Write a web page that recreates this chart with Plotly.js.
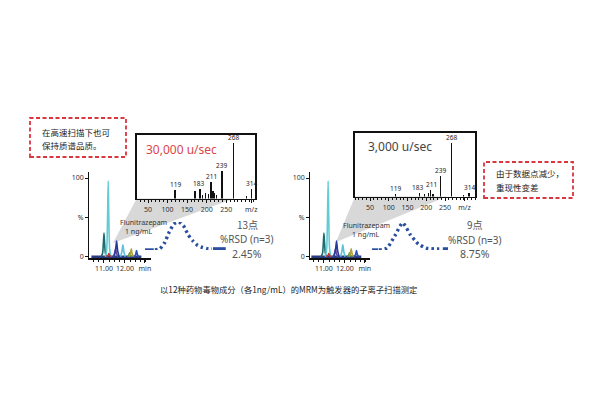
<!DOCTYPE html>
<html>
<head>
<meta charset="utf-8">
<script src="https://cdn.plot.ly/plotly-3.0.1.min.js"></script>
<style>
  html, body { margin: 0; padding: 0; background: #fff; }
  #chart { width: 600px; height: 400px; }
</style>
</head>
<body>
<div id="chart"></div>
<script>
(function () {
  'use strict';

  /* ---------- TIC chromatogram (same trace in both panels) ---------- */
  const chromBaseX = [10.4, 12.78];
  const chromBaseY = [0, 0];
  const chromColors = ['#1f6b6b', '#62ccd5', '#c8352e', '#6b4c9a', '#243f9a',
                       '#5ec3d8', '#5a9a40', '#b0a040', '#2c55b5'];
  const chromX = [
    [10.86, 10.93, 10.97, 11.00, 11.03, 11.07, 11.14],
    [11.07, 11.13, 11.17, 11.20, 11.23, 11.27, 11.33],
    [11.12, 11.20, 11.23, 11.26, 11.34],
    [11.44, 11.50, 11.55, 11.60, 11.66],
    [11.48, 11.55, 11.60, 11.65, 11.72],
    [11.79, 11.85, 11.90, 11.95, 12.01],
    [12.12, 12.18, 12.22, 12.26, 12.32],
    [12.20, 12.26, 12.30, 12.34, 12.40],
    [12.45, 12.51, 12.55, 12.59, 12.65]
  ];
  const chromY = [
    [0, 4, 17, 30, 17, 4, 0],
    [0, 10, 50, 96, 50, 10, 0],
    [0, 2, 4, 2, 0],
    [0, 4, 10, 4, 0],
    [0, 8, 20, 8, 0],
    [0, 6, 15, 6, 0],
    [0, 2, 5, 2, 0],
    [0, 4, 10, 4, 0],
    [0, 3, 8, 3, 0]
  ];
  const CHROM_TICKS = [11, 12, 12.95];
  const CHROM_TICKTEXT = ['11.00', '12.00', 'min'];

  /* ---------- product-ion spectra ---------- */
  const fastMz  = [119, 170, 183, 190, 197, 205, 211, 216, 221, 226, 239, 268, 302, 314];
  const fastInt = [16, 14, 17, 7, 10, 8, 29, 13, 10, 6, 49, 100, 4, 17];
  const slowMz  = [119, 183, 196, 205, 211, 218, 239, 268, 300, 314];
  const slowInt = [4, 7, 4, 6, 13, 5, 38, 100, 3, 6];
  const labeledMz = [119, 183, 211, 239, 268, 314];
  const MZ_TICKS = [50, 100, 150, 200, 250];

  /* ---------- Flunitrazepam peak: scan points ---------- */
  const fastScans = [0, 4, 25, 64, 93, 100, 86, 54, 32, 16, 9, 5, 4];
  const slowScans = [0, 7, 52, 100, 56, 22, 7, 4, 4];

  const FONT = "'Noto Sans', 'Noto Sans CJK SC', sans-serif";
  const CJK = "'Noto Sans CJK SC', 'Noto Sans', sans-serif";
  const CURVE_BLUE = '#2a4fa0';

  const PX = v => v / 600;
  const PY = v => 1 - v / 400;

  /* ---------- axis builders ---------- */
  function chromAxes(x0, x1, range) {
    return {
      x: {
        domain: [PX(x0), PX(x1)], range: range,
        showline: true, linecolor: '#111', linewidth: 1.2,
        ticks: 'outside', ticklen: 3, tickcolor: '#111',
        tickmode: 'array', tickvals: CHROM_TICKS, ticktext: CHROM_TICKTEXT,
        tickfont: { size: 7, color: '#333', family: FONT },
        minor: { tickmode: 'linear', tick0: 10.5, dtick: 0.25, ticks: 'outside', ticklen: 2, tickcolor: '#111' },
        showgrid: false, zeroline: false
      },
      y: {
        domain: [PY(258.3), PY(171.7)], range: [-2, 108],
        showline: true, linecolor: '#111', linewidth: 1.2,
        ticks: 'outside', ticklen: 3, tickcolor: '#111',
        tickmode: 'array', tickvals: [0, 50, 100], ticktext: ['0', '%', '100'],
        tickfont: { size: 7, color: '#333', family: FONT },
        showgrid: false, zeroline: false
      }
    };
  }

  function specAxes(x0, x1, y0, y1, range, yTop, mzPos) {
    return {
      x: {
        domain: [PX(x0), PX(x1)], range: range,
        showline: true, mirror: true, linecolor: '#111', linewidth: 1.6,
        ticks: 'outside', ticklen: 3, tickcolor: '#111',
        tickmode: 'array', tickvals: MZ_TICKS.concat([mzPos]), ticktext: MZ_TICKS.map(String).concat(['m/z']),
        tickfont: { size: 7, color: '#333', family: FONT },
        minor: { tickmode: 'linear', tick0: 0, dtick: 10, ticks: 'outside', ticklen: 2, tickcolor: '#111' },
        showgrid: false, zeroline: false
      },
      y: {
        domain: [PY(y1), PY(y0)], range: [0, yTop],
        showline: true, mirror: true, linecolor: '#111', linewidth: 1.6,
        ticks: '', showticklabels: false, showgrid: false, zeroline: false
      }
    };
  }

  function curveAxes(x0, x1, y0, y1, range) {
    return {
      x: { domain: [PX(x0), PX(x1)], range: range, visible: false },
      y: { domain: [PY(y0), PY(y1)], range: [0, 100], visible: false }
    };
  }

  /* ---------- traces ---------- */
  const traces = [];

  function addChrom(xa, ya) {
    traces.push({
      x: chromBaseX, y: chromBaseY, xaxis: xa, yaxis: ya,
      type: 'scatter', mode: 'lines', line: { color: '#2a3a80', width: 2.5 }, cliponaxis: false
    });
    chromX.forEach(function (xs, i) {
      traces.push({
        x: xs, y: chromY[i], xaxis: xa, yaxis: ya,
        type: 'scatter', mode: 'lines',
        line: { color: chromColors[i], width: 1.6, shape: 'spline', smoothing: 0.7 },
        cliponaxis: false
      });
    });
  }

  function addSpec(xa, ya, mz, inten) {
    traces.push({
      x: mz, y: inten, xaxis: xa, yaxis: ya, type: 'bar',
      width: 3.2, marker: { color: '#111', line: { width: 0 } }
    });
  }

  function addCurve(xa, ya, scans, dashL, dashR) {
    traces.push({
      x: scans.map((_, i) => i), y: scans, xaxis: xa, yaxis: ya,
      type: 'scatter', mode: 'lines', cliponaxis: false,
      line: { color: CURVE_BLUE, width: 3.4, dash: '2.6px,3px', shape: 'spline', smoothing: 0.6 }
    });
    [dashL, dashR].forEach(function (d) {
      traces.push({
        x: d.x, y: d.y, xaxis: xa, yaxis: ya,
        type: 'scatter', mode: 'lines', cliponaxis: false,
        line: { color: CURVE_BLUE, width: 3.4 }
      });
    });
  }

  addChrom('x', 'y');
  addSpec('x2', 'y2', fastMz, fastInt);
  addCurve('x3', 'y3', fastScans,
    { x: [-2.1, -0.25], y: [0, 0] }, { x: [12.2, 14.9], y: [4, 4] });
  addChrom('x4', 'y4');
  addSpec('x5', 'y5', slowMz, slowInt);
  addCurve('x6', 'y6', slowScans,
    { x: [-0.9, -0.1], y: [0, 0] }, { x: [8.1, 8.8], y: [4, 4] });

  /* ---------- layout ---------- */
  const cL = chromAxes(89.3, 151, [10.3, 13.24]);
  const cR = chromAxes(310.3, 370.3, [10.35, 13.21]);
  const sL = specAxes(136.7, 255.5, 135, 198.5, [21, 325], 115, 314);
  const sR = specAxes(355, 475, 133, 196.5, [10, 330], 119, 302);
  const dL = curveAxes(145, 226, 250, 222, [-2.1, 14.95]);
  const dR = curveAxes(372, 448, 250, 223, [-0.89, 8.76]);

  function peakLabels(xa, ya, mz, inten) {
    return labeledMz.map(function (m) {
      const k = mz.indexOf(m);
      return {
        x: m, y: inten[k], xref: xa, yref: ya, text: String(m),
        showarrow: false, yanchor: 'bottom', yshift: -1,
        xshift: m === 183 ? -2 : (m === 211 ? 1 : 0),
        font: { size: 6.5, color: '#222', family: FONT }
      };
    });
  }

  function paperText(x, y, text, size, color, anchor, fam) {
    return {
      x: PX(x), y: PY(y), xref: 'paper', yref: 'paper', text: text,
      showarrow: false, xanchor: anchor || 'center', yanchor: 'middle',
      font: { size: size, color: color, family: fam || FONT }
    };
  }

  const annotations = [
    paperText(40, 132, '在高速扫描下也可', 8.5, '#222', 'left', CJK),
    paperText(40, 145, '保持质谱品质。', 8.5, '#222', 'left', CJK),
    paperText(494, 173, '由于数据点减少，', 8.5, '#222', 'left', CJK),
    paperText(494, 187, '重现性变差', 8.5, '#222', 'left', CJK),
    paperText(144, 149, '30,000 u/sec', 12, '#d8474a', 'left'),
    paperText(366, 147, '3,000 u/sec', 12, '#444', 'left'),
    paperText(143, 222, 'Flunitrazepam', 7, '#333'),
    paperText(139, 232, '1 ng/mL', 7, '#333'),
    paperText(366, 225, 'Flunitrazepam', 7, '#333'),
    paperText(366, 234, '1 ng/mL', 7, '#333'),
    paperText(247, 224, '13点', 10, '#555', 'center', CJK),
    paperText(247, 239, '%RSD (n=3)', 10, '#555'),
    paperText(247, 253.5, '2.45%', 10.5, '#555'),
    paperText(475, 224, '9点', 10, '#555', 'center', CJK),
    paperText(475, 239.5, '%RSD (n=3)', 10, '#555'),
    paperText(475, 253.5, '8.75%', 10.5, '#555'),
    paperText(288, 289, '以12种药物毒物成分（各1ng/mL）的MRM为触发器的子离子扫描测定', 8.3, '#222', 'center', CJK)
  ].concat(peakLabels('x2', 'y2', fastMz, fastInt), peakLabels('x5', 'y5', slowMz, slowInt));

  const shapes = [
    { type: 'path', xref: 'paper', yref: 'paper', layer: 'below',
      path: 'M' + PX(113) + ',' + PY(243) + ' L' + PX(136.7) + ',' + PY(198.5) + ' L' + PX(234) + ',' + PY(198.5) + ' Z',
      fillcolor: '#d8d8d8', line: { width: 0 } },
    { type: 'path', xref: 'paper', yref: 'paper', layer: 'below',
      path: 'M' + PX(336) + ',' + PY(242) + ' L' + PX(355) + ',' + PY(196.5) + ' L' + PX(447) + ',' + PY(196.5) + ' Z',
      fillcolor: '#d8d8d8', line: { width: 0 } },
    { type: 'rect', xref: 'paper', yref: 'paper',
      x0: PX(30), x1: PX(126), y0: PY(157), y1: PY(118),
      line: { color: '#d9363e', width: 1.8, dash: '4px,2.5px' } },
    { type: 'rect', xref: 'paper', yref: 'paper',
      x0: PX(484), x1: PX(573), y0: PY(198), y1: PY(162),
      line: { color: '#d9363e', width: 1.8, dash: '4px,2.5px' } }
  ];

  const layout = {
    width: 600, height: 400,
    margin: { t: 0, r: 0, b: 0, l: 0 },
    paper_bgcolor: '#fff', plot_bgcolor: 'rgba(0,0,0,0)',
    showlegend: false, hovermode: false, bargap: 0,
    font: { family: FONT, color: '#333' },
    xaxis: Object.assign({ anchor: 'y' }, cL.x),
    yaxis: Object.assign({ anchor: 'x' }, cL.y),
    xaxis2: Object.assign({ anchor: 'y2' }, sL.x),
    yaxis2: Object.assign({ anchor: 'x2' }, sL.y),
    xaxis3: Object.assign({ anchor: 'y3' }, dL.x),
    yaxis3: Object.assign({ anchor: 'x3' }, dL.y),
    xaxis4: Object.assign({ anchor: 'y4' }, cR.x),
    yaxis4: Object.assign({ anchor: 'x4' }, cR.y),
    xaxis5: Object.assign({ anchor: 'y5' }, sR.x),
    yaxis5: Object.assign({ anchor: 'x5' }, sR.y),
    xaxis6: Object.assign({ anchor: 'y6' }, dR.x),
    yaxis6: Object.assign({ anchor: 'x6' }, dR.y),
    shapes: shapes,
    annotations: annotations
  };

  Plotly.newPlot('chart', traces, layout, { staticPlot: true, displayModeBar: false });
})();
</script>
</body>
</html>
